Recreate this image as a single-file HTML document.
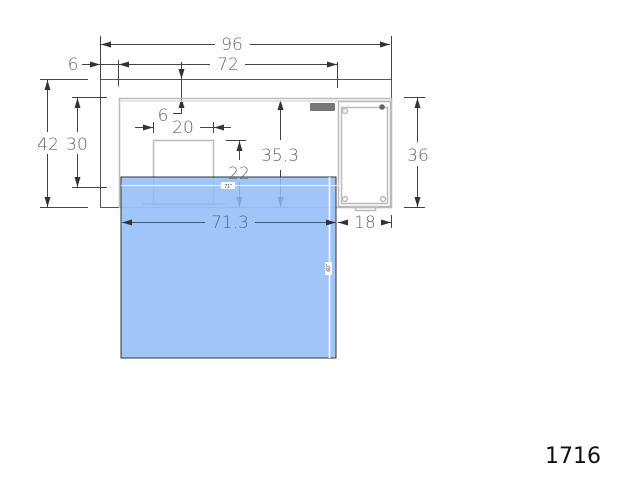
<!DOCTYPE html>
<html><head><style>
html,body{margin:0;padding:0;background:#fff;}
svg{display:block;}
.d{font-family:"DejaVu Sans","Liberation Sans",sans-serif;font-weight:200;fill:#666;font-size:17px;text-anchor:middle;}
</style></head><body>
<svg width="630" height="494" viewBox="0 0 630 494" xmlns="http://www.w3.org/2000/svg">
<defs>
<marker id="a" viewBox="0 0 10 6" refX="10" refY="3" markerWidth="10" markerHeight="6" orient="auto-start-reverse" markerUnits="userSpaceOnUse"><path d="M0,0 L10,3 L0,6z" fill="#333"/></marker>
</defs>
<g stroke="#444" stroke-width="1" fill="none">
<rect x="100.5" y="79.5" width="291" height="128" stroke="#555"/>
<line x1="100.5" y1="36" x2="100.5" y2="79"/>
<line x1="391.5" y1="36" x2="391.5" y2="79"/>
<line x1="101" y1="44.5" x2="215" y2="44.5" marker-start="url(#a)"/>
<line x1="250" y1="44.5" x2="390" y2="44.5" marker-end="url(#a)"/>
<line x1="118.5" y1="60" x2="118.5" y2="86"/>
<line x1="337.5" y1="62" x2="337.5" y2="88"/>
<line x1="82" y1="64.5" x2="100" y2="64.5" marker-end="url(#a)"/>
<line x1="101" y1="64.5" x2="118" y2="64.5"/>
<line x1="119" y1="64.5" x2="210" y2="64.5" marker-start="url(#a)"/>
<line x1="245" y1="64.5" x2="337" y2="64.5" marker-end="url(#a)"/>
<line x1="40" y1="79.5" x2="88" y2="79.5"/>
<line x1="40" y1="207.5" x2="88" y2="207.5"/>
<line x1="47.5" y1="80" x2="47.5" y2="132" marker-start="url(#a)"/>
<line x1="47.5" y1="154" x2="47.5" y2="207" marker-end="url(#a)"/>
<line x1="72" y1="97.5" x2="107" y2="97.5"/>
<line x1="72" y1="187.5" x2="107" y2="187.5"/>
<line x1="77.5" y1="98" x2="77.5" y2="132" marker-start="url(#a)"/>
<line x1="77.5" y1="154" x2="77.5" y2="187" marker-end="url(#a)"/>
<line x1="404" y1="97.5" x2="425" y2="97.5"/>
<line x1="404" y1="207.5" x2="425" y2="207.5"/>
<line x1="417.5" y1="98" x2="417.5" y2="142" marker-start="url(#a)"/>
<line x1="417.5" y1="166" x2="417.5" y2="207" marker-end="url(#a)"/>
<line x1="181.5" y1="62" x2="181.5" y2="79" marker-end="url(#a)"/>
<line x1="181.5" y1="79" x2="181.5" y2="113.5"/>
<line x1="181.5" y1="113" x2="181.5" y2="98" marker-end="url(#a)"/>
<line x1="173" y1="113.5" x2="182" y2="113.5"/>
<line x1="135" y1="127.5" x2="153" y2="127.5" marker-end="url(#a)"/>
<line x1="153.5" y1="122" x2="153.5" y2="133"/>
<line x1="200" y1="127.5" x2="213" y2="127.5"/>
<line x1="231" y1="127.5" x2="214" y2="127.5" marker-end="url(#a)"/>
<line x1="213.5" y1="122" x2="213.5" y2="133"/>
<line x1="226" y1="140.5" x2="246" y2="140.5"/>
<line x1="239.5" y1="160" x2="239.5" y2="141" marker-end="url(#a)"/>
<line x1="239.5" y1="182" x2="239.5" y2="207" marker-end="url(#a)"/>
<line x1="280.5" y1="140" x2="280.5" y2="100" marker-end="url(#a)"/>
<line x1="280.5" y1="170" x2="280.5" y2="207" marker-end="url(#a)"/>
<line x1="391.5" y1="215" x2="391.5" y2="228"/>
<line x1="345" y1="222.5" x2="338" y2="222.5" marker-end="url(#a)"/>
<line x1="383" y1="222.5" x2="391" y2="222.5" marker-end="url(#a)"/>
</g>
<g stroke="#bbb" fill="none" stroke-width="1.5">
<rect x="119.5" y="98.5" width="272" height="109"/>
<line x1="120" y1="101" x2="390" y2="101" stroke="#ddd"/>
<rect x="338.5" y="101.5" width="52" height="105"/>
<rect x="341.5" y="107.5" width="46" height="96"/>
<rect x="153.5" y="140.5" width="60" height="64"/>
<line x1="142" y1="204" x2="225" y2="204"/>
<rect x="355.5" y="207.5" width="20" height="3"/>
<circle cx="345" cy="111" r="2.5"/><circle cx="345" cy="199" r="2.5"/><circle cx="383" cy="199" r="2.5"/>
</g>
<circle cx="382" cy="107" r="2.8" fill="#666"/>
<rect x="310" y="103" width="25" height="8" rx="1" fill="#777"/>
<rect x="121" y="177" width="215" height="181" fill="#8fbcf7" fill-opacity="0.85" stroke="#333" stroke-width="1"/>
<line x1="121" y1="185.5" x2="341" y2="185.5" stroke="#fff" stroke-width="1"/>
<line x1="329.5" y1="177" x2="329.5" y2="358" stroke="#fff" stroke-width="1.5"/>
<rect x="221" y="182" width="14" height="7" fill="#fff"/>
<text x="228" y="188" font-size="5" text-anchor="middle" font-family="Liberation Sans" fill="#333">71"</text>
<rect x="325" y="262" width="7" height="13" fill="#fff"/>
<text x="330" y="268" font-size="5" text-anchor="middle" font-family="Liberation Sans" fill="#333" transform="rotate(-90 330 268)">60"</text>
<g stroke="#3a5a80" stroke-width="1">
<line x1="122" y1="222.5" x2="205" y2="222.5" marker-start="url(#a)"/>
<line x1="255" y1="222.5" x2="336" y2="222.5" marker-end="url(#a)"/>
</g>
<text class="d" x="232" y="50">96</text>
<text class="d" x="73" y="70">6</text>
<text class="d" x="228" y="70">72</text>
<text class="d" x="48" y="150">42</text>
<text class="d" x="77" y="150">30</text>
<text class="d" x="418" y="161">36</text>
<text class="d" x="163" y="121">6</text>
<text class="d" x="183" y="133">20</text>
<text class="d" x="239" y="179">22</text>
<text class="d" x="280" y="161">35.3</text>
<text class="d" x="230" y="228" style="fill:#4a6a90">71.3</text>
<text class="d" x="365" y="228">18</text>
<text x="573" y="463" font-family="DejaVu Sans, sans-serif" font-size="22" text-anchor="middle" fill="#111">1716</text>
</svg>
</body></html>
